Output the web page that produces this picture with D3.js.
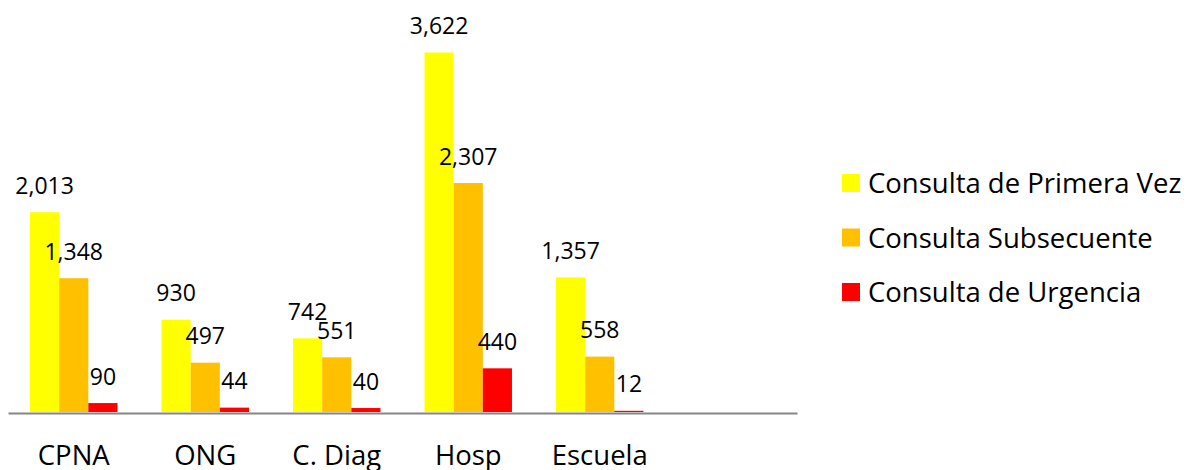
<!DOCTYPE html>
<html>
<head>
<meta charset="utf-8">
<script src="https://cdn.jsdelivr.net/npm/d3@7"></script>
<style>
  body { margin: 0; background: #fff; }
  svg { display: block; font-family: "Open Sans", sans-serif; }
</style>
</head>
<body>
<svg id="chart" width="1190" height="470"></svg>
<script>
// categories (last slot is empty in the original chart)
const categories = ["CPNA", "ONG", "C. Diag", "Hosp", "Escuela", ""];
const seriesNames = ["Consulta de Primera Vez", "Consulta Subsecuente", "Consulta de Urgencia"];
const primeraVez = [2013, 930, 742, 3622, 1357, null];
const subsecuente = [1348, 497, 551, 2307, 558, null];
const urgencia = [90, 44, 40, 440, 12, null];
const colors = ["#FFFF00", "#FFC000", "#FF0000"];

const svg = d3.select("#chart");
const x0 = 8, x1 = 797;
const yBase = 412, yTop = 15;

const seriesValues = [primeraVez, subsecuente, urgencia];

const xScale = d3.scaleBand()
    .domain(d3.range(categories.length))
    .range([x0, x1])
    .paddingInner(0.335)
    .paddingOuter(0.1675);

const xSub = d3.scaleBand()
    .domain(d3.range(seriesNames.length))
    .range([0, xScale.bandwidth()]);

const yScale = d3.scaleLinear()
    .domain([0, 4000])
    .range([yBase, yTop]);

const fmt = d3.format(",");

// bars
seriesValues.forEach((vals, s) => {
    const g = svg.append("g").attr("class", "series-" + s);
    const data = vals.map((v, i) => ({ i, v })).filter(d => d.v != null);

    g.selectAll("rect")
        .data(data)
        .enter()
        .append("rect")
        .attr("x", d => xScale(d.i) + xSub(s))
        .attr("y", d => yScale(d.v))
        .attr("width", xSub.bandwidth())
        .attr("height", d => yScale(0) - yScale(d.v))
        .attr("fill", colors[s]);

    g.selectAll("text")
        .data(data)
        .enter()
        .append("text")
        .attr("x", d => xScale(d.i) + xSub(s) + xSub.bandwidth() / 2)
        .attr("y", d => yScale(d.v) - 18.5)
        .attr("text-anchor", "middle")
        .attr("font-size", 23)
        .attr("fill", "#000")
        .text(d => fmt(d.v));
});

// x axis
const xAxis = d3.axisBottom(xScale)
    .tickSize(0)
    .tickFormat(i => categories[i]);

const axisG = svg.append("g")
    .attr("transform", "translate(0," + (yBase + 1) + ")")
    .call(xAxis);

axisG.select(".domain")
    .attr("stroke", "#868686")
    .attr("stroke-width", 2);

axisG.selectAll("text")
    .attr("y", 52)
    .attr("dy", null)
    .attr("font-size", 27.5)
    .attr("font-family", "Open Sans, sans-serif")
    .attr("fill", "#000");

// legend
const legend = svg.append("g")
    .attr("transform", "translate(842,174)");

const item = legend.selectAll("g")
    .data(seriesNames)
    .enter()
    .append("g")
    .attr("transform", (d, i) => "translate(0," + (i * 54.5) + ")");

item.append("rect")
    .attr("width", 18)
    .attr("height", 18)
    .attr("fill", (d, i) => colors[i]);

item.append("text")
    .attr("x", 26)
    .attr("y", 19)
    .attr("font-size", 27.5)
    .attr("fill", "#000")
    .text(d => d);
</script>
</body>
</html>
